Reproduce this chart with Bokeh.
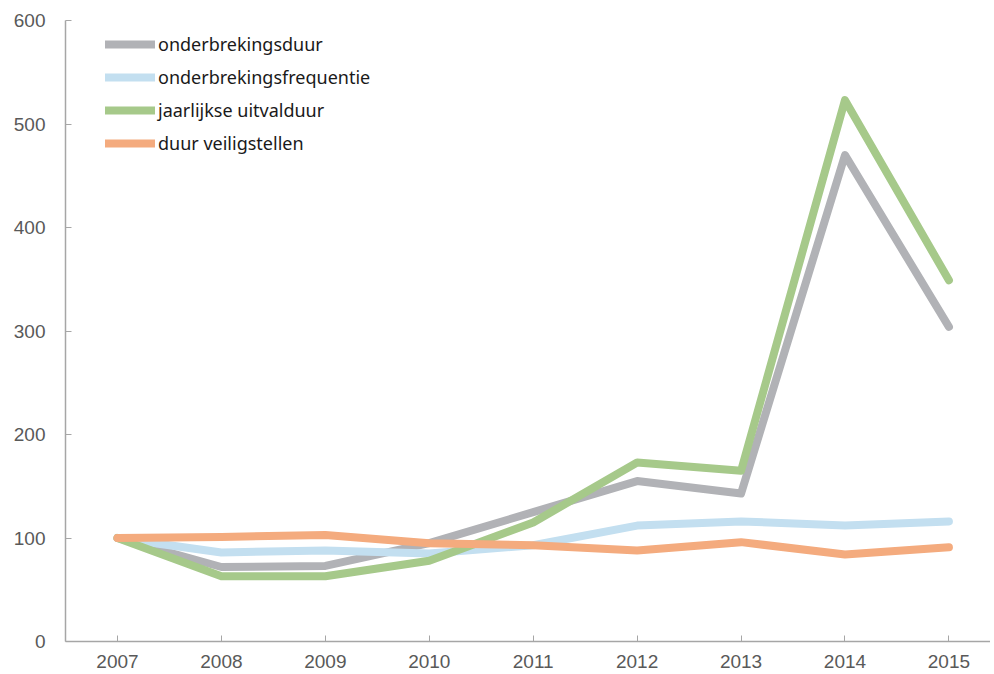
from bokeh.plotting import figure
from bokeh.models import Legend, LegendItem, FixedTicker, Range1d
from bokeh.embed import file_html
from bokeh.resources import INLINE

years = [2007, 2008, 2009, 2010, 2011, 2012, 2013, 2014, 2015]
onderbrekingsduur = [100, 72, 73, 95, 125, 155, 143, 470, 304]
onderbrekingsfrequentie = [100, 86, 88, 85, 93, 112, 116, 112, 116]
jaarlijkse_uitvalduur = [100, 63, 63, 78, 115, 173, 165, 523, 349]
duur_veiligstellen = [100, 101, 103, 95, 93, 88, 96, 84, 91]

series = [
    ("onderbrekingsduur", onderbrekingsduur, "#b1b2b6"),
    ("onderbrekingsfrequentie", onderbrekingsfrequentie, "#c3dff0"),
    ("jaarlijkse uitvalduur", jaarlijkse_uitvalduur, "#a6c98a"),
    ("duur veiligstellen", duur_veiligstellen, "#f4ab7e"),
]

p = figure(width=990, height=672, output_backend="svg", toolbar_location=None,
           x_range=Range1d(2006.5, 2015.4), y_range=Range1d(0, 600),
           min_border_left=65, min_border_right=0, min_border_top=20, min_border_bottom=31)
p.outline_line_color = None
p.xgrid.visible = False
p.ygrid.visible = False

renderers = []
for name, vals, col in series:
    r = p.line(years, vals, line_color=col, line_width=8, line_cap="round", line_join="round")
    renderers.append((name, r))

for ax in (p.xaxis[0], p.yaxis[0]):
    ax.axis_line_color = "#a6a6a6"
    ax.axis_line_width = 1.5
    ax.major_tick_line_color = "#a6a6a6"
    ax.major_tick_in = 6
    ax.major_tick_out = 0
    ax.minor_tick_line_color = None
    ax.major_label_text_font = "Liberation Sans"
    ax.major_label_text_font_size = "19px"
    ax.major_label_text_color = "#595959"

p.xaxis.ticker = FixedTicker(ticks=years)
p.yaxis.ticker = FixedTicker(ticks=[0, 100, 200, 300, 400, 500, 600])
p.yaxis.major_label_standoff = 20
p.xaxis.major_label_standoff = 13

legend = Legend(items=[LegendItem(label=n, renderers=[r]) for n, r in renderers],
                location=(40, 486), padding=0, margin=0, spacing=9,
                glyph_width=50, glyph_height=20, label_height=20, label_standoff=3,
                border_line_color=None, background_fill_alpha=0,
                label_text_font="Noto Sans", label_text_font_size="18px",
                label_text_color="#1a1a1a")
p.add_layout(legend)

open("out.html", "w").write(file_html(p, INLINE))
